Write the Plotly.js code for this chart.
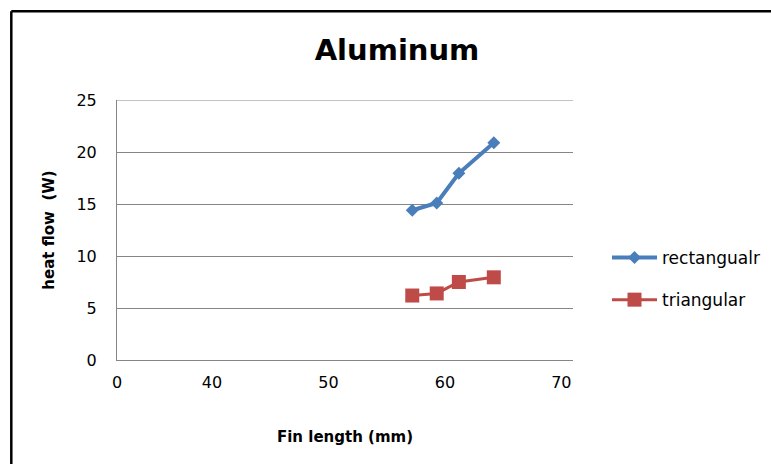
<!DOCTYPE html>
<html>
<head>
<meta charset="utf-8">
<script src="https://cdn.plot.ly/plotly-3.0.1.min.js"></script>
<style>html,body{margin:0;padding:0;background:#fff;}#chart{width:771px;height:464px;}</style>
</head>
<body>
<div id="chart"></div>
<script>
// Data
const finLength = [57.2, 59.3, 61.2, 64.2];
const rectangular = [14.4, 15.1, 17.95, 20.9];
const triangular = [6.2, 6.4, 7.5, 7.95];
const seriesNames = ['rectangualr', 'triangular'];
const xTickVals = [31.85, 40, 50, 60, 70];
const xTickText = ['0', '40', '50', '60', '70'];
const yTickVals = [0, 5, 10, 15, 20, 25];

const W = 771, H = 464;
const M = {l: 117, r: 198, t: 100, b: 104};
const pw = W - M.l - M.r, ph = H - M.t - M.b;
const px = x => (x - M.l) / pw;
const py = y => (H - M.b - y) / ph;

const traces = [
  {x: finLength, y: rectangular, name: seriesNames[0], type: 'scatter', mode: 'lines+markers',
   legendgroup: 'a',
   line: {color: '#4A7EBB', width: 4}, marker: {symbol: 'diamond', size: 10, color: '#4A7EBB'}},
  {x: finLength, y: triangular, name: seriesNames[1], type: 'scatter', mode: 'lines+markers',
   legendgroup: 'b',
   line: {color: '#BE4B48', width: 3}, marker: {symbol: 'square', size: 14, color: '#BE4B48'}}
];

const layout = {
  width: W, height: H,
  margin: M,
  paper_bgcolor: '#fff', plot_bgcolor: '#fff',
  font: {family: 'DejaVu Sans', color: '#000'},
  title: {text: '<b>Aluminum</b>', font: {family: 'DejaVu Sans', size: 29, color: '#000'},
          x: 397 / W, xanchor: 'center', y: 1 - 50 / H, yanchor: 'middle'},
  xaxis: {range: [31.85, 71], tickvals: xTickVals, ticktext: xTickText,
          showgrid: false, zeroline: false, showline: true, linecolor: '#868686', linewidth: 1,
          ticks: '', ticklabelstandoff: 8, tickfont: {size: 16, color: '#000'},
          title: {text: '<b>Fin length (mm)</b>', font: {size: 15, color: '#000'}, standoff: 40}},
  yaxis: {range: [0, 25], tickvals: yTickVals, showgrid: true, gridcolor: '#868686', gridwidth: 1,
          zeroline: false, showline: true, linecolor: '#868686', linewidth: 1,
          ticks: '', ticklabelstandoff: 16, tickfont: {size: 16, color: '#000'},
          title: {text: '<b>heat flow  (W)</b>', font: {size: 15, color: '#000'}, standoff: 18}},
  showlegend: true,
  legend: {xref: 'container', yref: 'container', x: 607 / W, xanchor: 'left', y: 1 - 240 / H, yanchor: 'top',
           traceorder: 'grouped', tracegroupgap: 17, itemwidth: 45,
           font: {size: 17, color: '#000'}, bgcolor: 'rgba(0,0,0,0)'},
  shapes: [
    {type: 'line', xref: 'paper', yref: 'y', x0: 0, x1: 1,
     y0: yTickVals[yTickVals.length - 1], y1: yTickVals[yTickVals.length - 1],
     line: {color: '#868686', width: 1}, layer: 'below'},
    {type: 'line', xref: 'paper', yref: 'paper', x0: px(11.3), x1: px(790), y0: py(11.3), y1: py(11.3),
     line: {color: '#000', width: 2.5}},
    {type: 'line', xref: 'paper', yref: 'paper', x0: px(11.3), x1: px(11.3), y0: py(11.3), y1: py(480),
     line: {color: '#000', width: 2.5}}
  ]
};

Plotly.newPlot('chart', traces, layout, {displayModeBar: false, staticPlot: true});
</script>
</body>
</html>
